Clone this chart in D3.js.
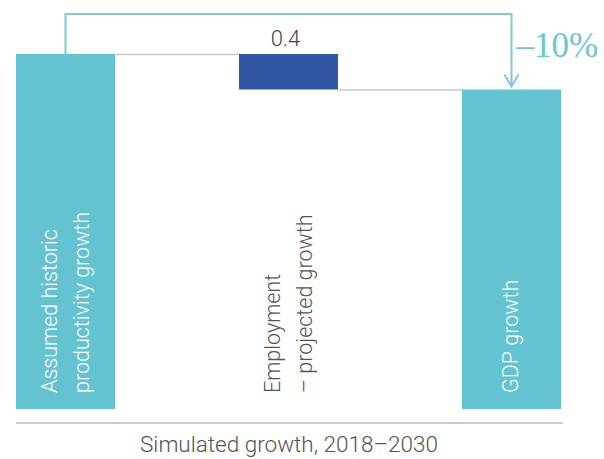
<!DOCTYPE html>
<html>
<head>
<meta charset="utf-8">
<script src="https://cdn.jsdelivr.net/npm/d3@7"></script>
<style>
  body { margin: 0; background: #fff; }
  text { font-family: Roboto, "Liberation Sans", sans-serif; font-weight: 300; }
</style>
</head>
<body>
<div id="chart"></div>
<script>
// data
const categories = ["Assumed historic productivity growth", "Employment – projected growth", "GDP growth"];
const labelLines = [["Assumed historic", "productivity growth"], ["Employment", "– projected growth"], ["GDP growth"]];
const values = [4.0, -0.4, 3.6];          // waterfall steps
const kinds = ["total", "delta", "total"];
const deltaLabel = "0.4";
const changeLabel = "–10%";
const axisTitle = "Simulated growth, 2018–2030";

const W = 604, H = 459;
const svg = d3.select("#chart").append("svg")
    .attr("width", W)
    .attr("height", H);

// build waterfall start/end
let running = 0;
const bars = categories.map((c, i) => {
    let start, end;
    if (kinds[i] === "total") { start = 0; end = values[i]; running = values[i]; }
    else { start = running; end = running + values[i]; running = end; }
    return { cat: c, lines: labelLines[i], kind: kinds[i], start, end };
});

const x = d3.scaleBand()
    .domain(categories)
    .range([16, 561])
    .paddingInner(0.556)
    .paddingOuter(0);

const y = d3.scaleLinear()
    .domain([0, 4])
    .range([409, 54]);

const teal = "#64c3d0", blue = "#3157a4";

// connector lines
for (let i = 0; i < bars.length - 1; i++) {
    const level = bars[i].end;
    svg.append("line")
        .attr("x1", x(bars[i].cat) + x.bandwidth())
        .attr("x2", x(bars[i + 1].cat))
        .attr("y1", y(level) + 0.5)
        .attr("y2", y(level) + 0.5)
        .attr("stroke", "#c8c8c8")
        .attr("stroke-width", 1.5);
}

// bars
svg.selectAll("rect.bar")
    .data(bars)
    .enter()
    .append("rect")
    .attr("class", "bar")
    .attr("x", d => x(d.cat))
    .attr("width", x.bandwidth())
    .attr("y", d => y(Math.max(d.start, d.end)))
    .attr("height", d => Math.abs(y(d.start) - y(d.end)))
    .attr("fill", d => d.kind === "total" ? teal : blue);

// rotated category labels
bars.forEach(d => {
    const cx = x(d.cat) + x.bandwidth() / 2;
    const n = d.lines.length;
    const lh = 32;
    const t = svg.append("text")
        .attr("transform", `translate(${cx},393) rotate(-90)`)
        .attr("fill", d.kind === "total" ? "#fff" : "#555")
        .attr("font-size", 21.5);
    d.lines.forEach((l, j) => {
        t.append("tspan")
            .attr("x", 0)
            .attr("y", (j - (n - 1) / 2) * lh + 7)
            .text(l);
    });
});

// delta value label
const dBar = bars[1];
svg.append("text")
    .attr("x", x(dBar.cat) + x.bandwidth() / 2 - 3)
    .attr("y", y(dBar.start) - 8)
    .attr("text-anchor", "middle")
    .attr("font-size", 22)
    .attr("fill", "#444")
    .text(deltaLabel);

// bracket arrow from first total to last total
const x0 = x(bars[0].cat) + x.bandwidth() / 2;
const x1 = x(bars[2].cat) + x.bandwidth() / 2;
const topY = 14;
const tipY = y(bars[2].end) - 3;
svg.append("path")
    .attr("d", `M${x0},${y(bars[0].end)} V${topY} H${x1} V${tipY}`)
    .attr("fill", "none")
    .attr("stroke", "#7ccbd6")
    .attr("stroke-width", 2);
svg.append("path")
    .attr("d", `M${x1 - 7},${tipY - 12} L${x1},${tipY} L${x1 + 7},${tipY - 12}`)
    .attr("fill", "none")
    .attr("stroke", "#7ccbd6")
    .attr("stroke-width", 2);

svg.append("text")
    .attr("x", x1 + 5)
    .attr("y", 57)
    .style("font-family", "'Liberation Serif', 'DejaVu Serif', serif")
    .style("font-weight", 400)
    .attr("font-size", 35)
    .attr("fill", "#6cc7d3")
    .text(changeLabel);

// baseline + axis title
svg.append("line")
    .attr("x1", 16).attr("x2", 563)
    .attr("y1", 423).attr("y2", 423)
    .attr("stroke", "#999")
    .attr("stroke-width", 1.2);

svg.append("text")
    .attr("x", 289)
    .attr("y", 452)
    .attr("text-anchor", "middle")
    .attr("font-size", 22.5)
    .attr("fill", "#555")
    .text(axisTitle);
</script>
</body>
</html>
